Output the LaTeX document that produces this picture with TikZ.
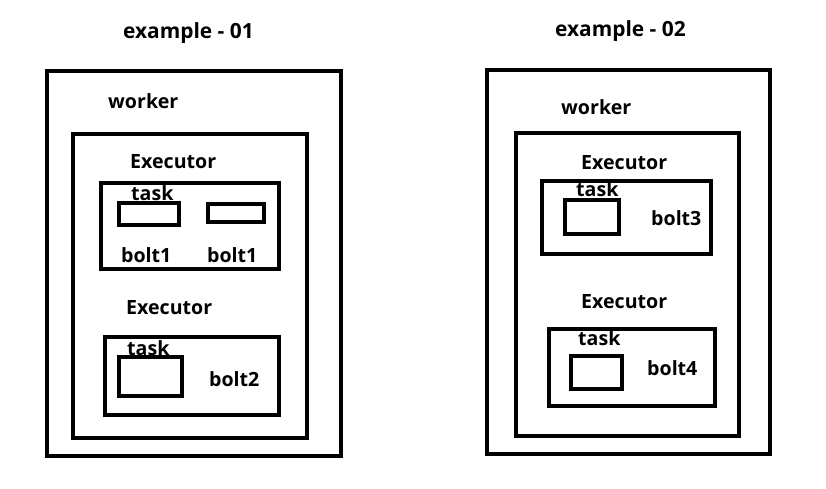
\documentclass[tikz,border=0pt]{standalone}
\usepackage{fontspec}
\setmainfont{Open Sans}
\usepackage{tikz}
\usetikzlibrary{positioning}
\tikzstyle{box}=[line width=3.6pt]
\tikzstyle{outerbox}=[line width=4pt]
\tikzstyle{lbl}=[anchor=base west, inner sep=0pt, font=\fontsize{19.6}{22}\selectfont\bfseries]
\tikzstyle{ttl}=[anchor=base west, inner sep=0pt, font=\fontsize{20.9}{23}\selectfont\bfseries]

\begin{document}
\begin{tikzpicture}[x=1pt, y=-1pt]
  \useasboundingbox (0,0) rectangle (826,489);

  % タイトル
  \node[ttl] (title1) at (123,39) {example - 01};
  \node[ttl] (title2) at (555,37) {example - 02};

  % 左側: worker と Executor の枠
  \draw[outerbox] (47,71) rectangle (341,456);
  \draw[box] (73,134) rectangle (307,438);
  \draw[box] (101,183) rectangle (279,269);
  \draw[box] (105,337) rectangle (279,415);

  % 左側: task の枠
  \draw[box] (119,203) rectangle (179,225);
  \draw[box] (208,204) rectangle (264,222);
  \draw[box] (119,357) rectangle (182,396);

  % 左側のラベル
  \node[lbl] (worker1) at (108,109) {worker};
  \node[lbl] (exec1a) at (130,168) {Executor};
  \node[lbl] (task1a) at (131,200) {task};
  \node[lbl] (bolt1a) at (121,262) {bolt1};
  \node[lbl] (bolt1b) at (207,262) {bolt1};
  \node[lbl] (exec1b) at (126,314) {Executor};
  \node[lbl] (task1b) at (127,355) {task};
  \node[lbl] (bolt2) at (209,386) {bolt2};

  % 右側: worker と Executor の枠
  \draw[outerbox] (487,70) rectangle (770,454);
  \draw[box] (516,133) rectangle (739,436);
  \draw[box] (542,181) rectangle (711,254);
  \draw[box] (549,329) rectangle (715,406);

  % 右側: task の枠
  \draw[box] (565,200) rectangle (619,234);
  \draw[box] (571,356) rectangle (622,389);

  % 右側のラベル
  \node[lbl] (worker2) at (561,115) {worker};
  \node[lbl] (exec2a) at (581,170) {Executor};
  \node[lbl] (task2a) at (576,196) {task};
  \node[lbl] (bolt3) at (651,225) {bolt3};
  \node[lbl] (exec2b) at (581,308) {Executor};
  \node[lbl] (task2b) at (578,345) {task};
  \node[lbl] (bolt4) at (647,375) {bolt4};
\end{tikzpicture}
\end{document}
